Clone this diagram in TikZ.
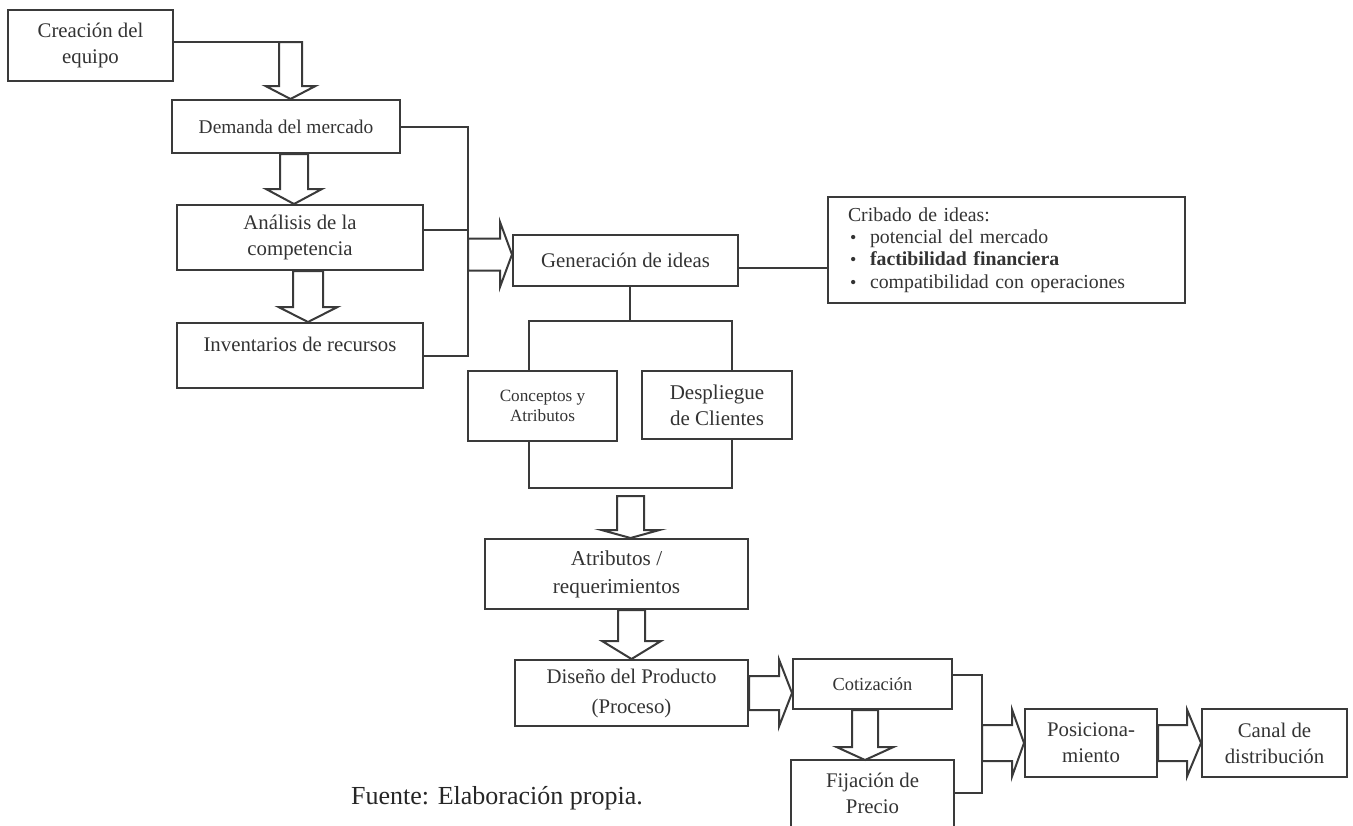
\documentclass[tikz,border=0pt]{standalone}
\usepackage{fontspec}
\setmainfont{Liberation Serif}
\usetikzlibrary{calc}

\definecolor{linec}{HTML}{3A3A3A}
\definecolor{textc}{HTML}{333333}

\tikzset{
  box/.style={draw=linec, line width=1pt, align=center, inner sep=0pt, text=textc,
    font=\fontsize{10.4}{13}\selectfont},
  link/.style={draw=linec, line width=1pt},
  blockarrow/.style={draw=linec, line width=1pt, fill=white, line join=miter},
}

% hollow block arrows: start, tip, half shaft, half head, head length
\newcommand{\vblock}[5]{%
  \draw[blockarrow] ($(#1)+(-#3,0)$) -- ($(#1 |- #2)+(-#3,-#5)$) -- ($(#1 |- #2)+(-#4,-#5)$)
    -- (#1 |- #2) -- ($(#1 |- #2)+(#4,-#5)$) -- ($(#1 |- #2)+(#3,-#5)$) -- ($(#1)+(#3,0)$) -- cycle;}
\newcommand{\hblock}[5]{%
  \draw[blockarrow] ($(#1)+(0,-#3)$) -- ($(#2 |- #1)+(-#5,-#3)$) -- ($(#2 |- #1)+(-#5,-#4)$)
    -- (#2 |- #1) -- ($(#2 |- #1)+(-#5,#4)$) -- ($(#2 |- #1)+(-#5,#3)$) -- ($(#1)+(0,#3)$) -- cycle;}
\newcommand{\cribitem}{\hspace*{1pt}\makebox[10pt][l]{\fontsize{9}{9}\selectfont\textbullet}}

\begin{document}
\begin{tikzpicture}[x=0.5pt, y=-0.5pt]
  \useasboundingbox (0,0) rectangle (1353,825);

  % Left column
  \node[box, minimum width=82.5pt, minimum height=35.5pt] (equipo) at (90.5,45.5) {Creación del\\equipo};
  \node[box, minimum width=114pt, minimum height=26.5pt, font=\fontsize{9.7}{12}\selectfont] (demanda) at (286,126.5) {Demanda del mercado};
  \node[box, minimum width=123pt, minimum height=32.5pt] (analisis) at (300,237.5) {Análisis de la\\competencia};
  \node[box, minimum width=123pt, minimum height=32.5pt] (inventarios) at (300,355.5) {Inventarios de recursos\\[-2pt]\mbox{}};

  % Ideas
  \node[box, minimum width=112.5pt, minimum height=25.5pt] (generacion) at (625.5,260.5) {Generación de ideas};
  \node[box, minimum width=178.5pt, minimum height=53pt, align=left, text width=158.5pt,
    font=\fontsize{9.9}{11.2}\selectfont] (cribado) at (1006.5,250)
    {Cribado de ideas:\\
     \cribitem potencial del mercado\\
     \cribitem\textbf{factibilidad financiera}\\
     \cribitem compatibilidad con operaciones};
  \node[box, minimum width=74.5pt, minimum height=35pt, font=\fontsize{8.6}{10}\selectfont] (conceptos) at (542.5,406) {Conceptos y\\Atributos};
  \node[box, minimum width=75pt, minimum height=34pt, font=\fontsize{10.5}{13}\selectfont] (despliegue) at (717,405) {Despliegue\\de Clientes};

  % Product
  \node[box, minimum width=131.5pt, minimum height=35pt, font=\fontsize{10.6}{14}\selectfont] (atributos) at (616.5,574) {Atributos /\\requerimientos};
  \node[box, minimum width=116.5pt, minimum height=33pt, font=\fontsize{10.4}{15}\selectfont] (diseno) at (631.5,693) {Diseño del Producto\\(Proceso)};
  \node[box, minimum width=79.5pt, minimum height=25pt, font=\fontsize{9.2}{12}\selectfont] (cotizacion) at (872.5,684) {Cotización};
  \node[box, draw=none, minimum width=80.5pt, minimum height=32pt] (fijacion) at (872.5,793) {Fijación de\\Precio};
  \draw[link] (fijacion.south west) -- (fijacion.north west) -- (fijacion.north east) -- (fijacion.south east);
  \node[box, minimum width=66pt, minimum height=34pt] (posicion) at (1091,743) {Posiciona-\\miento};
  \node[box, minimum width=72.5pt, minimum height=34pt] (canal) at (1274.5,743) {Canal de\\distribución};

  \node[inner sep=0pt, text=black!85, font=\fontsize{13}{15}\selectfont] (fuente) at (497,798) {Fuente: Elaboración propia.};

  % Left column arrows
  \coordinate (a1) at (290.5,42);
  \draw[link] (equipo.east |- a1) -- (a1);
  \vblock{a1}{demanda.north}{11.5}{25}{13}
  \coordinate (a2) at ([xshift=4pt]demanda.south);
  \vblock{a2}{analisis.north}{14}{28}{15}
  \coordinate (a3) at ([xshift=4pt]analisis.south);
  \vblock{a3}{inventarios.north}{15}{29.5}{15}

  % Bus into ideas
  \coordinate (bus) at (468,0);
  \coordinate (an2) at ([yshift=3.75pt]analisis.east);
  \draw[link] (demanda.east) -| (bus |- inventarios.east) -- (inventarios.east);
  \draw[link] (an2) -- (an2 -| bus);
  \coordinate (g1) at ([yshift=3pt]generacion.west);
  \hblock{bus |- g1}{g1}{16}{32.5}{12}
  \coordinate (g2) at ([yshift=-3.5pt]generacion.east);
  \draw[link] (g2) -- (g2 -| cribado.west);

  % Fork to the two boxes
  \coordinate (fork) at ([xshift=2.25pt,yshift=-17pt]generacion.south);
  \coordinate (cl) at ([xshift=-7pt]conceptos.north);
  \coordinate (dl) at ([xshift=7.5pt]despliegue.north);
  \draw[link] ([xshift=2.25pt]generacion.south) -- (fork);
  \draw[link] (cl) |- (fork) -| (dl);
  \coordinate (cb) at ([xshift=-7pt]conceptos.south);
  \coordinate (db) at ([xshift=7.5pt]despliegue.south);
  \coordinate (join) at (630.5,488);
  \draw[link] (cb) |- (join) -| (db);

  % Down to the product
  \coordinate (a5) at ($(join)+(0,8)$);
  \vblock{a5}{atributos.north}{13.5}{29}{8}
  \coordinate (a6) at (diseno.north |- atributos.south);
  \vblock{a6}{diseno.north}{13.5}{29.5}{18}
  \hblock{diseno.east}{cotizacion.west}{17}{33.5}{13}
  \coordinate (a8) at ([xshift=-3.75pt]cotizacion.south);
  \vblock{a8}{fijacion.north}{13}{28.5}{13}

  % Price to positioning
  \coordinate (bus2) at (982,0);
  \coordinate (c2) at ([yshift=4.5pt]cotizacion.east);
  \draw[link] (c2) -| (bus2 |- fijacion.east) -- (fijacion.east);
  \hblock{bus2 |- posicion.west}{posicion.west}{18}{33.5}{12}
  \hblock{posicion.east}{canal.west}{18}{33.5}{14}
\end{tikzpicture}
\end{document}
